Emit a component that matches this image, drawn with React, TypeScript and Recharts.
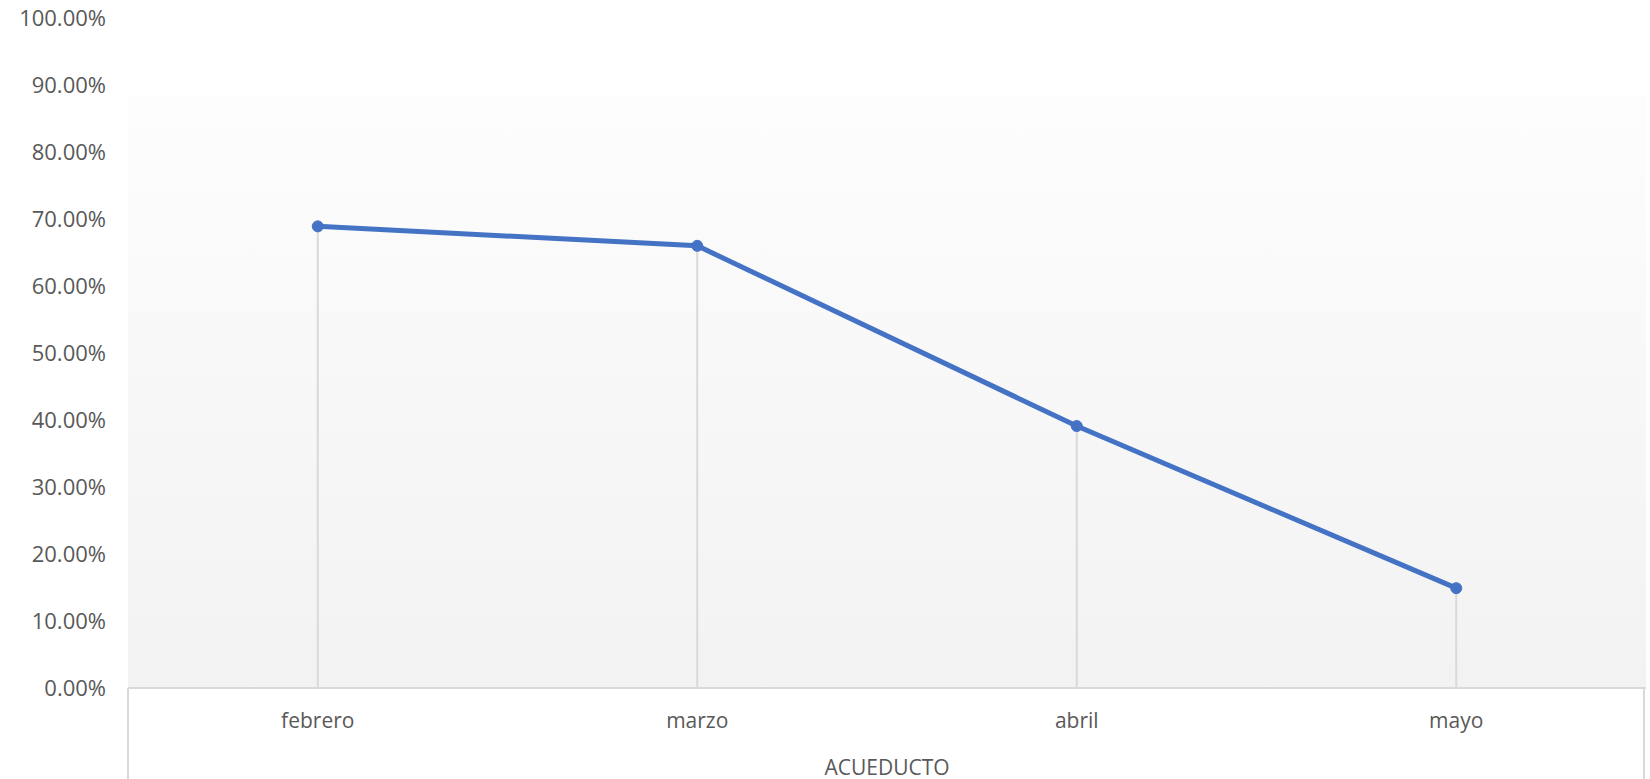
import React from 'react';
import { LineChart, Line, XAxis, YAxis, CartesianGrid, ReferenceLine } from 'recharts';

const months = ['febrero', 'marzo', 'abril', 'mayo'];
const values = [0.689, 0.66, 0.391, 0.149];
const yTicks = [0, 0.1, 0.2, 0.3, 0.4, 0.5, 0.6, 0.7, 0.8, 0.9, 1];
const axisTitle = 'ACUEDUCTO';

const data = months.map((m, i) => ({ month: m, value: values[i] }));

const FONT = '"Open Sans", "Noto Sans", sans-serif';
const TEXT = '#595959';
const GRID = '#d9d9d9';

const App: React.FC = () => {
    return (
        <div style={{ position: 'relative', width: 1650, height: 779, background: '#fff', fontFamily: FONT }}>
            <style>{`body { margin: 0; }`}</style>
            {/* category axis box (Excel multi-level label frame) */}
            <div
                style={{
                    position: 'absolute',
                    left: 127,
                    top: 688,
                    width: 1518,
                    height: 91,
                    borderLeft: `2px solid ${GRID}`,
                    borderRight: `2px solid ${GRID}`,
                    boxSizing: 'border-box',
                }}
            />
            <div
                style={{
                    position: 'absolute',
                    left: 128,
                    width: 1518,
                    top: 754,
                    textAlign: 'center',
                    color: TEXT,
                    fontSize: 21,
                    lineHeight: '26px',
                }}
            >
                {axisTitle}
            </div>
            <LineChart
                width={1650}
                height={779}
                data={data}
                margin={{ top: 18, right: 4, bottom: 0, left: 0 }}
                style={{ position: 'absolute', left: 0, top: 0 }}
            >
                <defs>
                    <linearGradient id="plotBg" x1="0" y1="0" x2="0" y2="1">
                        <stop offset="0" stopColor="#ffffff" />
                        <stop offset="0.115" stopColor="#ffffff" />
                        <stop offset="0.115" stopColor="#fdfdfd" />
                        <stop offset="1" stopColor="#f2f2f2" />
                    </linearGradient>
                </defs>
                <CartesianGrid horizontal={false} vertical={false} fill="url(#plotBg)" stroke="none" />
                <XAxis
                    dataKey="month"
                    height={91}
                    padding={{ left: 189.75, right: 189.75 }}
                    axisLine={{ stroke: GRID, strokeWidth: 2 }}
                    tickLine={false}
                    tickMargin={19}
                    tick={{ fill: TEXT, fontSize: 21, fontFamily: FONT }}
                />
                <YAxis
                    domain={[0, 1]}
                    ticks={yTicks}
                    width={128}
                    axisLine={false}
                    tickLine={false}
                    tickMargin={16}
                    interval={0}
                    tickFormatter={(v: number) => `${(v * 100).toFixed(2)}%`}
                    tick={{ fill: TEXT, fontSize: 22, fontFamily: FONT }}
                />
                {data.map(d => (
                    <ReferenceLine
                        key={d.month}
                        segment={[{ x: d.month, y: 0 }, { x: d.month, y: d.value }]}
                        stroke={GRID}
                        strokeWidth={2}
                    />
                ))}
                <Line
                    type="linear"
                    dataKey="value"
                    stroke="#4472C4"
                    strokeWidth={5}
                    dot={{ r: 5.5, fill: '#4472C4', stroke: '#4472C4', strokeWidth: 1 }}
                    activeDot={false}
                    isAnimationActive={false}
                />
            </LineChart>
        </div>
    );
};

export default App;
